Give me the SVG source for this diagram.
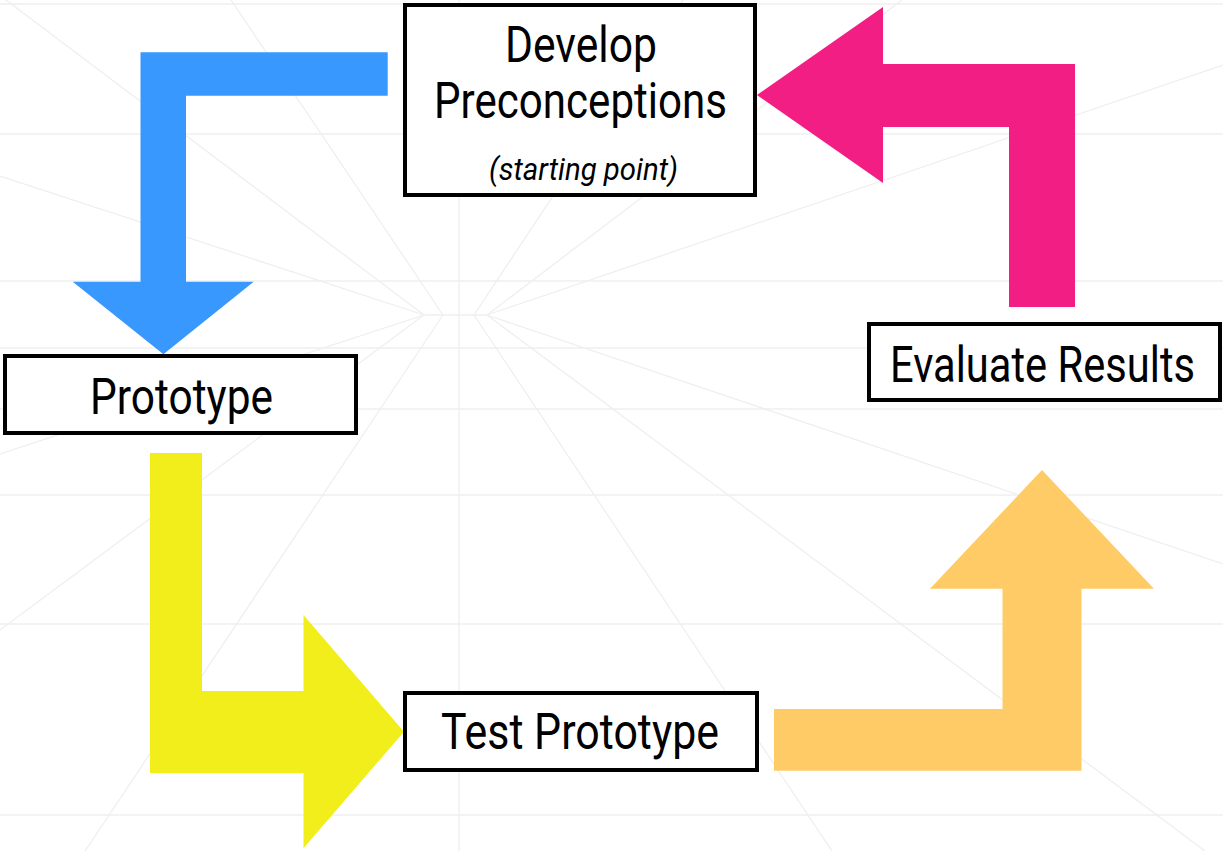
<svg xmlns="http://www.w3.org/2000/svg" width="1223" height="851" viewBox="0 0 1223 851">
  <style>
    .grid line { stroke: #efefef; stroke-width: 1.3; }
    .box { fill: #ffffff; stroke: #000000; stroke-width: 4; }
    .label { font-family: Roboto, "Liberation Sans", sans-serif; font-size: 50px; fill: #000000; }
    .note { font-family: Roboto, "Liberation Sans", sans-serif; font-size: 31px; font-style: italic; fill: #000000; }
  </style>

  <rect width="1223" height="851" fill="#ffffff"/>

  <!-- faint starburst backdrop -->
  <g class="grid">
    <line x1="0" y1="4" x2="1223" y2="4"/>
    <line x1="0" y1="134" x2="1223" y2="134"/>
    <line x1="0" y1="281" x2="1223" y2="281"/>
    <line x1="0" y1="348" x2="1223" y2="348"/>
    <line x1="0" y1="409" x2="1223" y2="409"/>
    <line x1="0" y1="495" x2="1223" y2="495"/>
    <line x1="0" y1="624" x2="1223" y2="624"/>
    <line x1="0" y1="815" x2="1223" y2="815"/>
    <line x1="459" y1="0" x2="459" y2="851"/>
    <line x1="424" y1="315" x2="487" y2="315"/>
    <line x1="424" y1="315" x2="0" y2="176"/>
    <line x1="424" y1="315" x2="0" y2="454"/>
    <line x1="424" y1="315" x2="6" y2="0"/>
    <line x1="424" y1="315" x2="0" y2="630"/>
    <line x1="443" y1="315" x2="231" y2="0"/>
    <line x1="443" y1="315" x2="85" y2="851"/>
    <line x1="474" y1="315" x2="683" y2="0"/>
    <line x1="474" y1="315" x2="832" y2="851"/>
    <line x1="487" y1="315" x2="1223" y2="65"/>
    <line x1="487" y1="315" x2="1223" y2="564"/>
    <line x1="487" y1="315" x2="902" y2="0"/>
    <line x1="487" y1="315" x2="1205" y2="851"/>
  </g>

  <!-- connectors: bent block arrows -->
  <g id="connectors">
    <polygon id="arrow-develop-prototype" fill="#3998fd"
      points="387.7,52.3 140.5,52.3 140.5,281.7 72.7,281.7 163.4,354.3 253.7,281.7 186,281.7 186,95.7 387.7,95.7"/>
    <polygon id="arrow-prototype-test" fill="#f2ee1c"
      points="150,453 202,453 202,691 303.5,691 303.5,615 404,731.7 303.5,848.3 303.5,773 150,773"/>
    <polygon id="arrow-test-evaluate" fill="#ffcb66"
      points="1042,470 1154,588.7 1081.5,588.7 1081.5,770.7 774,770.7 774,709 1002.5,709 1002.5,588.7 930,588.7"/>
    <polygon id="arrow-evaluate-develop" fill="#f21e84"
      points="757,95 883,7 883,64 1075,64 1075,307 1009,307 1009,127 883,127 883,183"/>
  </g>

  <!-- labels are set in a narrowed Roboto -->
  <g id="node-develop">
    <rect class="box" x="405" y="5" width="350" height="190"/>
    <text class="label" transform="translate(505,62) scale(0.86,1)" x="0" y="0" textLength="176.7" lengthAdjust="spacingAndGlyphs">Develop</text>
    <text class="label" transform="translate(434,118) scale(0.86,1)" x="0" y="0" textLength="340.7" lengthAdjust="spacingAndGlyphs">Preconceptions</text>
    <text class="note" transform="translate(489,180) scale(0.86,1)" x="0" y="0" textLength="219.8" lengthAdjust="spacingAndGlyphs">(starting point)</text>
  </g>

  <g id="node-prototype">
    <rect class="box" x="5" y="356" width="351" height="77"/>
    <text class="label" transform="translate(90,414) scale(0.86,1)" x="0" y="0" textLength="212.8" lengthAdjust="spacingAndGlyphs">Prototype</text>
  </g>

  <g id="node-test">
    <rect class="box" x="405" y="693" width="352" height="77"/>
    <text class="label" transform="translate(441,749) scale(0.86,1)" x="0" y="0" textLength="323.3" lengthAdjust="spacingAndGlyphs">Test Prototype</text>
  </g>

  <g id="node-evaluate">
    <rect class="box" x="869" y="324" width="351" height="76"/>
    <text class="label" transform="translate(890,382) scale(0.86,1)" x="0" y="0" textLength="354.7" lengthAdjust="spacingAndGlyphs">Evaluate Results</text>
  </g>
</svg>
